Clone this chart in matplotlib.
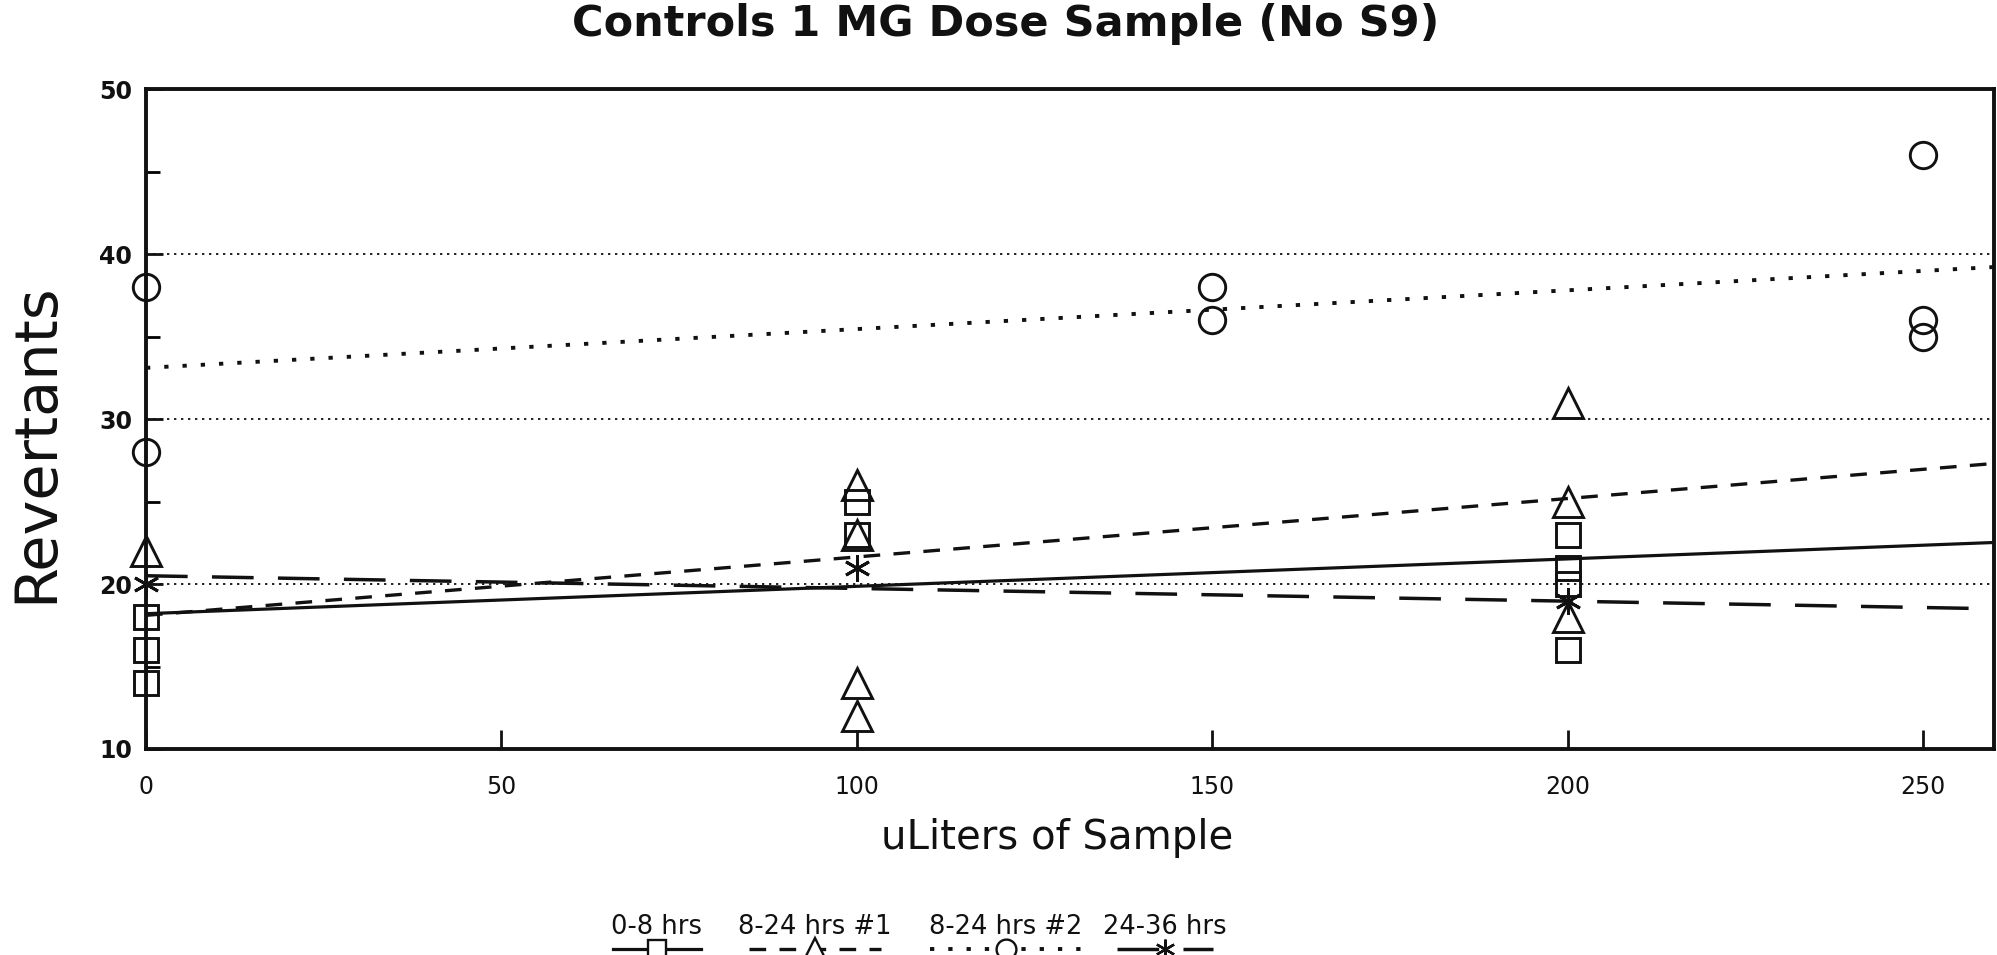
import numpy as np
import matplotlib
matplotlib.use("Agg")
import matplotlib.pyplot as plt
from matplotlib.ticker import MultipleLocator

plt.rcParams['font.family'] = ['DejaVu Sans']

# Revertant counts per plate, by sample volume (uL) and collection window
dose_0_8 = [0, 0, 0, 100, 100, 200, 200, 200, 200]
rev_0_8 = [18, 16, 14, 25, 23, 23, 21, 20, 16]

dose_8_24a = [0, 100, 100, 100, 100, 200, 200, 200]
rev_8_24a = [22, 26, 23, 14, 12, 31, 25, 18]

dose_8_24b = [0, 0, 150, 150, 250, 250, 250]
rev_8_24b = [38, 28, 38, 36, 46, 36, 35]

dose_24_36 = [0, 100, 200]
rev_24_36 = [20, 21, 19]

series_labels = ["0-8 hrs", "8-24 hrs #1", "8-24 hrs #2", "24-36 hrs"]

# Linear trend for each series: intercept (revertants) and slope (per uL)
trend_intercept = [18.2, 18.1, 33.1, 20.5]
trend_slope = [0.0166, 0.0354, 0.0235, -0.0077]

x_ticks = [0, 50, 100, 150, 200, 250]
y_ticks = [10, 20, 30, 40, 50]
grid_levels = [20, 30, 40]

INK = "#111111"
W, H = 1997, 955
fig = plt.figure(figsize=(W / 100, H / 100), dpi=100)
fig.patch.set_facecolor("white")

ax = fig.add_axes([146 / W, 1 - 749 / H, (1994 - 146) / W, (749 - 89) / H])
ax.set_xlim(0, 260)
ax.set_ylim(10, 50)

# dotted reference lines
for g in grid_levels:
    ax.axhline(g, color="#222222", lw=1.4, linestyle=(0, (1.2, 2.4)), zorder=1)

styles = [
    dict(linestyle="-", lw=2.3),
    dict(linestyle=(0, (5.0, 4.0)), lw=2.4),
    dict(linestyle=(0, (1.1, 3.6)), lw=2.8),
    dict(linestyle=(0, (12.0, 7.0)), lw=2.5),
]
markers = [
    dict(marker="s", ms=17),
    dict(marker="^", ms=21),
    dict(marker="o", ms=19),
    dict(marker=(6, 2, 0), ms=19),
]

doses = [dose_0_8, dose_8_24a, dose_8_24b, dose_24_36]
revs = [rev_0_8, rev_8_24a, rev_8_24b, rev_24_36]

for i in range(4):
    ax.axline((0, trend_intercept[i]), slope=trend_slope[i], color=INK,
              zorder=2, **styles[i])
    ax.plot(doses[i], revs[i], linestyle="none", mfc="none", mec=INK,
            mew=2.1, zorder=3, clip_on=False, **markers[i])

for side in ax.spines.values():
    side.set_linewidth(2.8)
    side.set_color(INK)

ax.set_xticks(x_ticks)
ax.set_yticks(y_ticks)
ax.yaxis.set_minor_locator(MultipleLocator(5))
ax.tick_params(axis="x", direction="in", length=14, width=2, pad=19,
               labelsize=17, colors=INK)
ax.tick_params(axis="y", which="major", direction="in", length=12, width=2,
               pad=10, labelsize=17, colors=INK)
ax.tick_params(axis="y", which="minor", direction="in", length=10, width=2)
for lab in ax.get_yticklabels():
    lab.set_fontweight("bold")

fig.text(1006 / W, 1 - 24 / H, "Controls 1 MG Dose Sample (No S9)",
         ha="center", va="center", fontsize=31, fontweight="bold", color=INK)
fig.text(1057 / W, 1 - 838 / H, "uLiters of Sample", ha="center",
         va="center", fontsize=29, color=INK)
fig.text(36 / W, 1 - 443 / H, "Revertants", ha="center", va="center",
         rotation=90, fontsize=42.5, color=INK)

# key below the plot: label above a short line sample with its marker
leg = fig.add_axes([0, 0, 1, 0.1])
leg.set_xlim(0, W)
leg.set_ylim(H * 0.1, 0)
leg.axis("off")
key_centers = [657, 815, 1006, 1165]
key_widths = [88, 132, 152, 96]
for i in range(4):
    c, w = key_centers[i], key_widths[i]
    leg.text(c, 927 - H * 0.9, series_labels[i], ha="center", va="center",
             fontsize=18.5, color=INK)
    leg.plot([c - w / 2, c + w / 2], [949 - H * 0.9] * 2, color=INK,
             clip_on=False, **styles[i])
    mk = dict(markers[i])
    mk["ms"] = mk["ms"] * 0.75
    leg.plot([c], [949 - H * 0.9], linestyle="none", mfc="white", mec=INK,
             mew=1.7, clip_on=False, **mk)

fig.savefig("out.png", dpi=100, facecolor="white")
